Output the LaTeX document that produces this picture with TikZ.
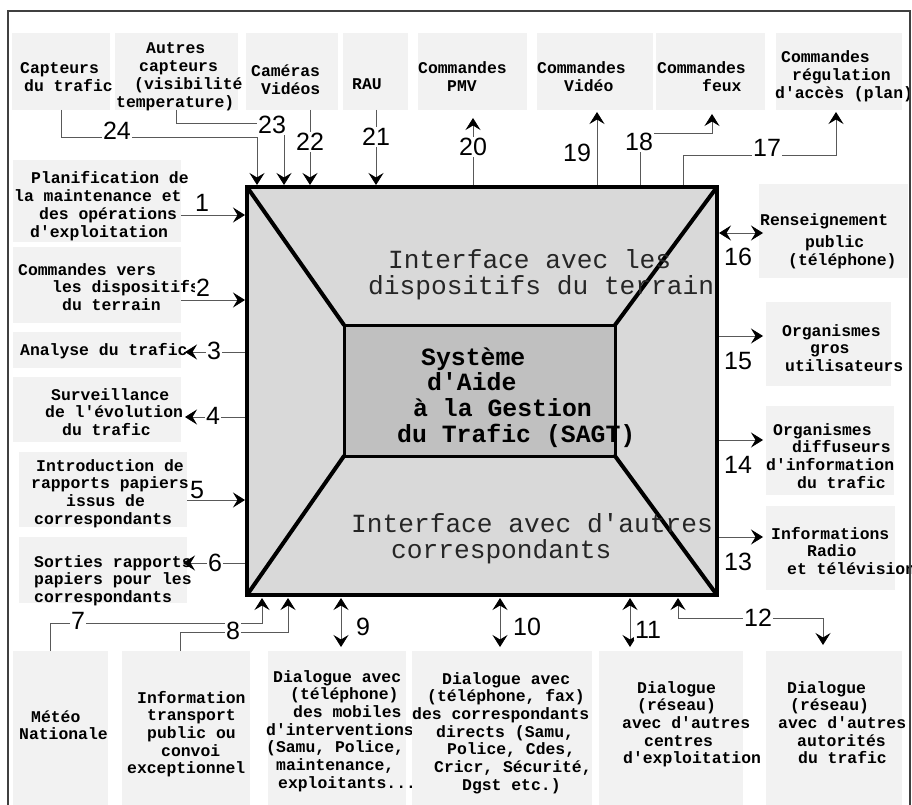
\documentclass[tikz,border=0pt]{standalone}
\usepackage{fontspec}
\usetikzlibrary{arrows.meta,fit}
\newfontfamily\cour{Liberation Mono}
\newfontfamily\arialf{Liberation Sans}
\definecolor{boxgray}{HTML}{F2F2F2}
\definecolor{outergray}{HTML}{D9D9D9}
\definecolor{innergray}{HTML}{C0C0C0}
\newcommand\tx[1]{\begin{tabular}[t]{@{}l@{}}#1\end{tabular}}
\newcommand\ind[1]{\hspace*{#1pt}}
\frenchspacing
\begin{document}
\begin{tikzpicture}[x=1pt,y=-1pt,
  arr/.style={-{Stealth[length=12pt,width=15pt,inset=4.5pt,color=black,line width=0.8pt]}},
  darr/.style={{Stealth[length=12pt,width=15pt,inset=4.5pt,color=black,line width=0.8pt]}-{Stealth[length=12pt,width=15pt,inset=4.5pt,color=black,line width=0.8pt]}},
  lbox/.style={fill=boxgray, inner sep=0pt, outer sep=0pt},
  ltext/.style={font=\cour\bfseries\fontsize{16.4}{17.7}\selectfont, inner sep=0pt, anchor=base west},
  num/.style={font=\arialf\fontsize{25}{25}\selectfont, fill=white, inner sep=1pt},
  con/.style={line width=0.8pt, draw=black!65},
  thick4/.style={line width=4pt, line cap=round, line join=round}]
\useasboundingbox (0,0) rectangle (912,805);
\fill[white] (0,0) rectangle (912,805);

% ---------- main block ----------
\node[fill=outergray, minimum width=470pt, minimum height=408pt, inner sep=0pt, outer sep=0pt] (main) at (482,391) {};
\node[fill=innergray, minimum width=271pt, minimum height=131pt, inner sep=0pt, outer sep=0pt] (inner) at (479.5,390.5) {};
\draw[thick4] (main.north west) -- (inner.north west);
\draw[thick4] (main.north east) -- (inner.north east);
\draw[thick4] (main.south west) -- (inner.south west);
\draw[thick4] (main.south east) -- (inner.south east);
\draw[line width=3pt] (inner.north west) rectangle (inner.south east);
\draw[line width=4pt] (main.north west) rectangle (main.south east);

\node[anchor=base west, inner sep=0pt, text=black!85, font=\cour\fontsize{26.2}{26.5}\selectfont] (ti1) at (368,268) {\tx{\ind{20}Interface avec les\\dispositifs du terrain}};
\node[anchor=base west, inner sep=0pt, text=black!85, font=\cour\fontsize{26.2}{25.7}\selectfont] (ti2) at (351,532) {\tx{Interface avec d'autres\\\ind{40}correspondants}};
\node[anchor=base west, inner sep=0pt, font=\cour\bfseries\fontsize{24.8}{25.8}\selectfont] (ti0) at (397,365) {\tx{\ind{24}Système\\\ind{30}d'Aide\\\ind{16}à la Gestion\\du Trafic (SAGT)}};

% ---------- top boxes ----------
\node[lbox, fit={(12,33) (110,110)}] (b24) {};
\node[ltext] (t24) at (20,74) {\tx{Capteurs\\\ind{4}du trafic}};
\node[lbox, fit={(115,33) (238,110)}] (b23) {};
\node[ltext] (t23) at (116,54) {\tx{\ind{30}Autres\\\ind{23}capteurs\\\ind{18}(visibilité\\temperature)}};
\node[lbox, fit={(246,33) (338,110)}] (b22) {};
\node[ltext] (t22) at (251,77) {\tx{Caméras\\\ind{10}Vidéos}};
\node[lbox, fit={(343,33) (408,110)}] (b21) {};
\node[ltext] (t21) at (352,90) {RAU};
\node[lbox, fit={(418,33) (527,110)}] (b20) {};
\node[ltext] (t20) at (418,74) {\tx{Commandes\\\ind{29}PMV}};
\node[lbox, fit={(537,33) (653,110)}] (b19) {};
\node[ltext] (t19) at (537,74) {\tx{Commandes\\\ind{27}Vidéo}};
\node[lbox, fit={(656,33) (765,110)}] (b18) {};
\node[ltext] (t18) at (657,74) {\tx{Commandes\\\ind{45}feux}};
\node[lbox, fit={(776,33) (902,110)}] (b17) {};
\node[ltext] (t17) at (775,63) {\tx{\ind{6}Commandes\\\ind{17}régulation\\d'accès (plan)}};

% ---------- left boxes ----------
\node[lbox, fit={(13,160) (181,242)}] (b1) {};
\node[ltext] (t1) at (14,184) {\tx{\ind{17}Planification de\\la maintenance et\\\ind{25}des opérations\\\ind{16}d'exploitation}};
\node[lbox, fit={(13,247) (181,323)}] (b2) {};
\node[ltext] (t2) at (18,275) {\tx{Commandes vers\\\ind{34}les dispositifs\\\ind{44}du terrain}};
\node[lbox, fit={(13,332) (181,368)}] (b3) {};
\node[ltext] (t3) at (20,355) {Analyse du trafic};
\node[lbox, fit={(13,377) (181,442)}] (b4) {};
\node[ltext] (t4) at (45,400) {\tx{\ind{6}Surveillance\\de l'évolution\\\ind{17}du trafic}};
\node[lbox, fit={(19,452) (187,527)}] (b5) {};
\node[ltext] (t5) at (31,471) {\tx{\ind{5}Introduction de\\rapports papiers\\\ind{35}issus de\\\ind{3}correspondants}};
\node[lbox, fit={(19,537) (187,603)}] (b6) {};
\node[ltext] (t6) at (34,567) {\tx{Sorties rapports\\papiers pour les\\correspondants}};

% ---------- right boxes ----------
\node[lbox, fit={(759,184) (908,278)}] (b16) {};
\node[ltext] (t16) at (760,225) {\tx{Renseignement\\[5pt]\ind{45}public\\\ind{28}(téléphone)}};
\node[lbox, fit={(766,302) (891,386)}] (b15) {};
\node[ltext] (t15) at (782,336) {\tx{Organismes\\\ind{28}gros\\\ind{3}utilisateurs}};
\node[lbox, fit={(766,406) (894,495)}] (b14) {};
\node[ltext] (t14) at (766,435) {\tx{\ind{7}Organismes\\\ind{26}diffuseurs\\d'information\\\ind{31}du trafic}};
\node[lbox, fit={(766,506) (895,590)}] (b13) {};
\node[ltext] (t13) at (771,539) {\tx{Informations\\\ind{36}Radio\\\ind{16}et télévision}};

% ---------- bottom boxes ----------
\node[lbox, fit={(13,651) (108,806)}] (b7) {};
\node[ltext] (t7) at (19,722) {\tx{\ind{12}Météo\\Nationale}};
\node[lbox, fit={(122,651) (250,806)}] (b8) {};
\node[ltext] (t8) at (127,703) {\tx{\ind{10}Information\\\ind{20}transport\\\ind{20}public ou\\\ind{34}convoi\\exceptionnel}};
\node[lbox, fit={(268,651) (406,806)}] (b9) {};
\node[ltext] (t9) at (266,682) {\tx{\ind{7}Dialogue avec\\\ind{24}(téléphone)\\\ind{27}des mobiles\\d'interventions\\(Samu, Police,\\\ind{10}maintenance,\\\ind{12}exploitants...}};
\node[lbox, fit={(412,651) (592,806)}] (b10) {};
\node[ltext] (t10) at (412,684) {\tx{\ind{30}Dialogue avec\\\ind{15}(téléphone, fax)\\des correspondants\\\ind{24}directs (Samu,\\\ind{35}Police, Cdes,\\\ind{22}Cricr, Sécurité,\\\ind{50}Dgst etc.)}};
\node[lbox, fit={(599,651) (743,806)}] (b11) {};
\node[ltext] (t11) at (622,693) {\tx{\ind{15}Dialogue\\\ind{15}(réseau)\\avec d'autres\\\ind{22}centres\\\ind{1}d'exploitation}};
\node[lbox, fit={(766,651) (902,806)}] (b12) {};
\node[ltext] (t12) at (778,693) {\tx{\ind{9}Dialogue\\\ind{12}(réseau)\\avec d'autres\\\ind{19}autorités\\\ind{20}du trafic}};

% ---------- attachment points on the main block ----------
\coordinate (m24) at (257,185);
\coordinate (m23) at (284,185);
\coordinate (m22) at (310,185);
\coordinate (m21) at (376,185);
\coordinate (m20) at (473,185);
\coordinate (m19) at (597,185);
\coordinate (m18) at (640,185);
\coordinate (m17) at (683,185);
\coordinate (m1) at (245,215);
\coordinate (m2) at (245,300);
\coordinate (m3) at (245,352);
\coordinate (m4) at (245,417);
\coordinate (m5) at (245,500);
\coordinate (m6) at (245,563);
\coordinate (m16) at (719,233);
\coordinate (m15) at (719,336);
\coordinate (m14) at (719,440);
\coordinate (m13) at (719,537);
\coordinate (m7) at (262,598);
\coordinate (m8) at (288,598);
\coordinate (m9) at (341,598);
\coordinate (m10) at (500,598);
\coordinate (m11) at (630,598);
\coordinate (m12) at (678,598);

% ---------- connectors ----------
\draw[con,arr] (b24.south) -- ++(0,27) -| (m24);
\draw[con,arr] (b23.south) -- ++(0,13) -| (m23);
\draw[con,arr] (m22 |- b22.south) -- (m22);
\draw[con,arr] (m21 |- b21.south) -- (m21);
\draw[con,arr,shorten >=8pt] (m20) -- (m20 |- b20.south);
\draw[con,arr,shorten >=2pt] (m19) -- (m19 |- b19.south);
\draw[con,arr,shorten >=4pt] (m18) -- ++(0,-52) -| ([xshift=1.5pt]b18.south);
\draw[con,arr,shorten >=2pt] (m17) -- ++(0,-30) -| ([xshift=-3pt]b17.south);

\draw[con,arr] (b1.east |- m1) -- (m1);
\draw[con,arr] (b2.east |- m2) -- (m2);
\draw[con,arr,shorten >=4pt] (m3) -- (b3.east |- m3);
\draw[con,arr,shorten >=4pt] (m4) -- (b4.east |- m4);
\draw[con,arr] (b5.east |- m5) -- (m5);
\draw[con,arr,shorten >=-4pt] (m6) -- (b6.east |- m6);

\draw[con,darr,shorten >=-4pt] (m16) -- (b16.west |- m16);
\draw[con,arr,shorten >=3pt] (m15) -- (b15.west |- m15);
\draw[con,arr,shorten >=3pt] (m14) -- (b14.west |- m14);
\draw[con,arr,shorten >=3pt] (m13) -- (b13.west |- m13);

\draw[con,arr] ([xshift=-10pt]b7.north) -- ++(0,-28) -| (m7);
\draw[con,arr] ([xshift=-6pt]b8.north) -- ++(0,-19) -| (m8);
\draw[con,darr,shorten >=4pt] (m9) -- (m9 |- b9.north);
\draw[con,darr,shorten >=4pt] (m10) -- (m10 |- b10.north);
\draw[con,darr,shorten >=4pt] (m11) -- (m11 |- b11.north);
\draw[con,darr,shorten >=6pt] (m12) -- ++(0,20) -| ([xshift=-11pt]b12.north);

% ---------- number labels ----------
\node[num] (n24) at (117,131) {24};
\node[num] (n23) at (272,125) {23};
\node[num] (n22) at (310,142) {22};
\node[num] (n21) at (376,137) {21};
\node[num] (n20) at (473,147) {20};
\node[num] (n19) at (577,153) {19};
\node[num] (n18) at (639,142) {18};
\node[num] (n17) at (767,148) {17};
\node[num] (n1) at (202,203) {1};
\node[num] (n2) at (203,288) {2};
\node[num] (n3) at (214,351) {3};
\node[num] (n4) at (213,416) {4};
\node[num] (n5) at (197,490) {5};
\node[num] (n6) at (215,563) {6};
\node[num] (n16) at (738,257) {16};
\node[num] (n15) at (738,361) {15};
\node[num] (n14) at (738,465) {14};
\node[num] (n13) at (738,562) {13};
\node[num] (n7) at (78,621) {7};
\node[num] (n8) at (233,631) {8};
\node[num] (n9) at (363,627) {9};
\node[num] (n10) at (527,627) {10};
\node[num] (n11) at (648,630) {11};
\node[num] (n12) at (758,618) {12};

% ---------- outer frame ----------
\draw[line width=1.2pt, draw=black!75] (8,806) -- (8,11) -- (910,11) -- (910,806);
\end{tikzpicture}
\end{document}
